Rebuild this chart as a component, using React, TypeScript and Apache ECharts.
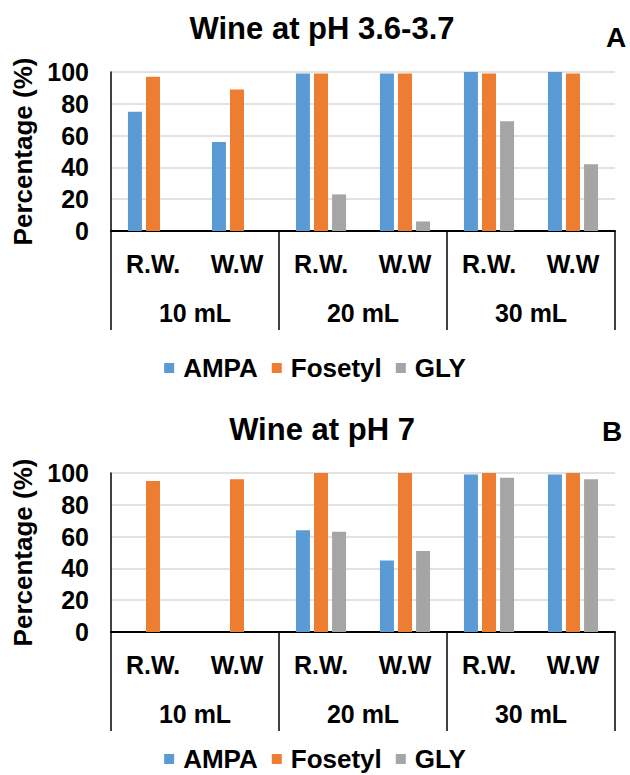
import React, { useEffect, useRef } from "react";
import * as echarts from "echarts";

const subCategories = ["R.W.", "W.W", "R.W.", "W.W", "R.W.", "W.W"];
const groupCategories = ["10 mL", "20 mL", "30 mL"];
const seriesNames = ["AMPA", "Fosetyl", "GLY"];
const colors = ["#5B9BD5", "#ED7D31", "#A5A5A5"];

const ampaA = [75, 56, 99, 99, 100, 100];
const fosetylA = [97, 89, 99, 99, 99, 99];
const glyA = [0, 0, 23, 6, 69, 42];

const ampaB = [0, 0, 64, 45, 99, 99];
const fosetylB = [95, 96, 100, 100, 100, 100];
const glyB = [0, 0, 63, 51, 97, 96];

const titleA = "Wine at pH 3.6-3.7";
const titleB = "Wine at pH 7";
const panelA = "A";
const panelB = "B";
const yName = "Percentage (%)";

const FONT = "'Liberation Sans', Arial, Helvetica, sans-serif";

export default function App() {
  const ref = useRef<HTMLDivElement>(null);

  useEffect(() => {
    if (!ref.current) return;
    const chart = echarts.init(ref.current, null, { renderer: "svg" });

    const gridTops = [72, 473];
    const gridH = 159;

    const xAxes: any[] = [];
    const yAxes: any[] = [];
    const series: any[] = [];
    const grids: any[] = [];
    const legends: any[] = [];

    const dataSets = [
      [ampaA, fosetylA, glyA],
      [ampaB, fosetylB, glyB],
    ];
    const legendTops = [350, 741];

    for (let g = 0; g < 2; g++) {
      grids.push({ left: 111, right: 15, top: gridTops[g], height: gridH, containLabel: false });
      xAxes.push({
        type: "category",
        gridIndex: g,
        position: "bottom",
        data: subCategories,
        axisLine: { show: false },
        axisTick: { show: false },
        axisLabel: {
          interval: 0,
          margin: 20,
          fontSize: 25,
          fontWeight: "bold",
          fontFamily: FONT,
          color: "#000",
        },
      });
      xAxes.push({
        type: "category",
        gridIndex: g,
        position: "bottom",
        data: groupCategories,
        axisLine: { show: true, onZero: false, lineStyle: { color: "#000", width: 2 } },
        axisTick: { show: true, interval: 0, length: 99, lineStyle: { color: "#000", width: 1.5 } },
        axisLabel: {
          interval: 0,
          margin: 69,
          fontSize: 25,
          fontWeight: "bold",
          fontFamily: FONT,
          color: "#000",
        },
      });
      yAxes.push({
        type: "value",
        gridIndex: g,
        min: 0,
        max: 100,
        interval: 20,
        name: yName,
        nameLocation: "middle",
        nameGap: 74,
        nameTextStyle: { fontSize: 26, fontWeight: "bold", fontFamily: FONT, color: "#000" },
        axisLine: { show: true, lineStyle: { color: "#000", width: 1.5 } },
        axisTick: { show: false },
        splitLine: { show: true, lineStyle: { color: "#D9D9D9", width: 1.5 } },
        axisLabel: {
          margin: 22,
          fontSize: 25,
          fontWeight: "bold",
          fontFamily: FONT,
          color: "#000",
        },
      });
      for (let s = 0; s < 3; s++) {
        series.push({
          type: "bar",
          name: seriesNames[s],
          xAxisIndex: g * 2,
          yAxisIndex: g,
          data: dataSets[g][s],
          barWidth: 14,
          barGap: "29%",
          itemStyle: { color: colors[s] },
        });
      }
      legends.push({
        data: seriesNames,
        left: "center",
        top: legendTops[g],
        icon: "rect",
        itemWidth: 10,
        itemHeight: 10,
        itemGap: 14,
        selectedMode: false,
        textStyle: {
          fontSize: 26,
          fontWeight: "bold",
          fontFamily: FONT,
          color: "#000",
          padding: [0, 0, 0, 4],
        },
      });
    }

    const textEl = (text: string, x: number, y: number, size: number) => ({
      type: "text",
      x,
      y,
      style: {
        text,
        fill: "#000",
        font: `bold ${size}px ${FONT}`,
        align: "center",
        verticalAlign: "middle",
      },
    });

    chart.setOption({
      animation: false,
      backgroundColor: "#fff",
      color: colors,
      grid: grids,
      xAxis: xAxes,
      yAxis: yAxes,
      legend: legends,
      series,
      graphic: [
        textEl(titleA, 322, 28, 31),
        textEl(titleB, 322, 429, 31),
        textEl(panelA, 616, 37, 28),
        textEl(panelB, 612, 431, 28),
      ],
    });

    return () => {
      chart.dispose();
    };
  }, []);

  return (
    <div
      ref={ref}
      style={{ position: "fixed", left: 0, top: 0, width: 630, height: 775, background: "#fff" }}
    />
  );
}
